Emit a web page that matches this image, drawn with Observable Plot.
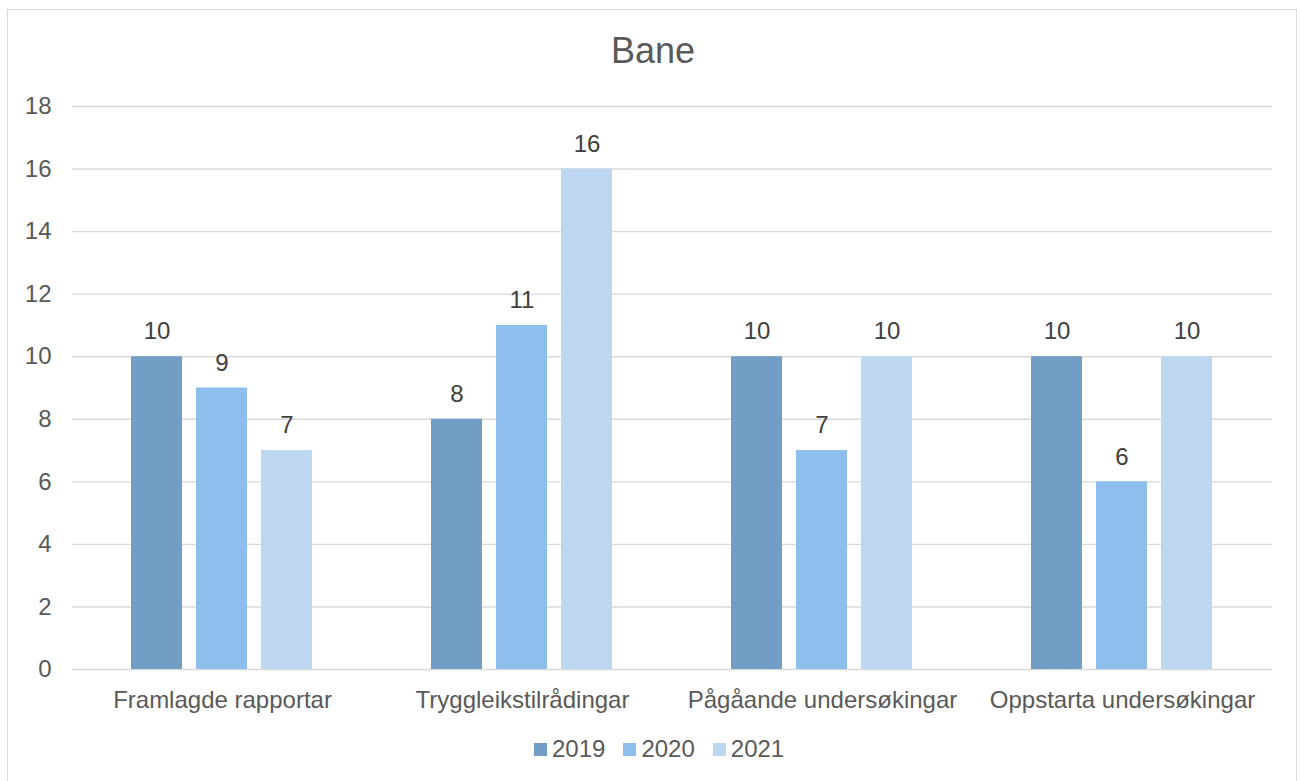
<!DOCTYPE html>
<html>
<head>
<meta charset="utf-8">
<script src="https://cdn.jsdelivr.net/npm/d3@7"></script>
<script src="https://cdn.jsdelivr.net/npm/@observablehq/plot@0.6"></script>
<style>
  html, body { margin: 0; padding: 0; background: #fff; overflow: hidden; }
  body { width: 1302px; height: 781px; position: relative; font-family: "Liberation Sans", Arial, sans-serif; }
  #frame { position: absolute; left: 7px; top: 9px; width: 1290px; height: 800px; border: 1.5px solid #d9d9d9; box-sizing: border-box; }
  #title { position: absolute; left: 0; width: 1302px; top: 33px; text-align: center; font-size: 36px; line-height: 36px; color: #595959; padding-left: 4px; box-sizing: border-box; }
  #chart { position: absolute; left: 0; top: 0; }
  #legend { position: absolute; left: 534px; top: 737px; display: flex; gap: 18px; font-size: 24px; line-height: 24px; color: #595959; }
  .item { display: flex; align-items: center; gap: 5px; }
  .sw { width: 13px; height: 13px; display: inline-block; }
</style>
</head>
<body>
<div id="frame"></div>
<div id="title">Bane</div>
<div id="chart"></div>
<div id="legend"></div>
<script>
const categories = ["Framlagde rapportar", "Tryggleikstilrådingar", "Pågåande undersøkingar", "Oppstarta undersøkingar"];
const years = ["2019", "2020", "2021"];
const values2019 = [10, 8, 10, 10];
const values2020 = [9, 11, 7, 6];
const values2021 = [7, 16, 10, 10];
const yTicks = [0, 2, 4, 6, 8, 10, 12, 14, 16, 18];
const colors = ["#729dc4", "#8dbeed", "#bed7f0"];

const series = [values2019, values2020, values2021];
const data = [];
categories.forEach((c, i) => {
  years.forEach((y, j) => data.push({cat: c, year: y, value: series[j][i]}));
});

const chart = Plot.plot({
  width: 1302,
  height: 720,
  marginTop: 106,
  marginBottom: 51,
  marginLeft: 72,
  marginRight: 30,
  style: {fontSize: "24px", fontFamily: "'Liberation Sans', Arial, sans-serif", color: "#595959", background: "transparent", overflow: "visible"},
  fx: {domain: categories, padding: 0, label: null, tickSize: 0, tickPadding: 21, axis: "bottom"},
  x: {domain: years, paddingInner: 0.212, paddingOuter: 0.879, axis: null},
  y: {domain: [0, 18], ticks: yTicks, tickSize: 0, tickPadding: 21, label: null, tickFormat: d => String(d)},
  color: {domain: years, range: colors},
  marks: [
    Plot.ruleY(yTicks, {stroke: "#d9d9d9", strokeWidth: 1.4}),
    Plot.barY(data, {fx: "cat", x: "year", y: "value", fill: "year"}),
    Plot.text(data, {fx: "cat", x: "year", y: "value", text: d => String(d.value), dy: -25, fill: "#404040"})
  ]
});
document.getElementById("chart").appendChild(chart);

const legend = document.getElementById("legend");
years.forEach((y, j) => {
  const item = document.createElement("div");
  item.className = "item";
  const sw = document.createElement("span");
  sw.className = "sw";
  sw.style.background = colors[j];
  const t = document.createElement("span");
  t.textContent = y;
  item.appendChild(sw);
  item.appendChild(t);
  legend.appendChild(item);
});
</script>
</body>
</html>
